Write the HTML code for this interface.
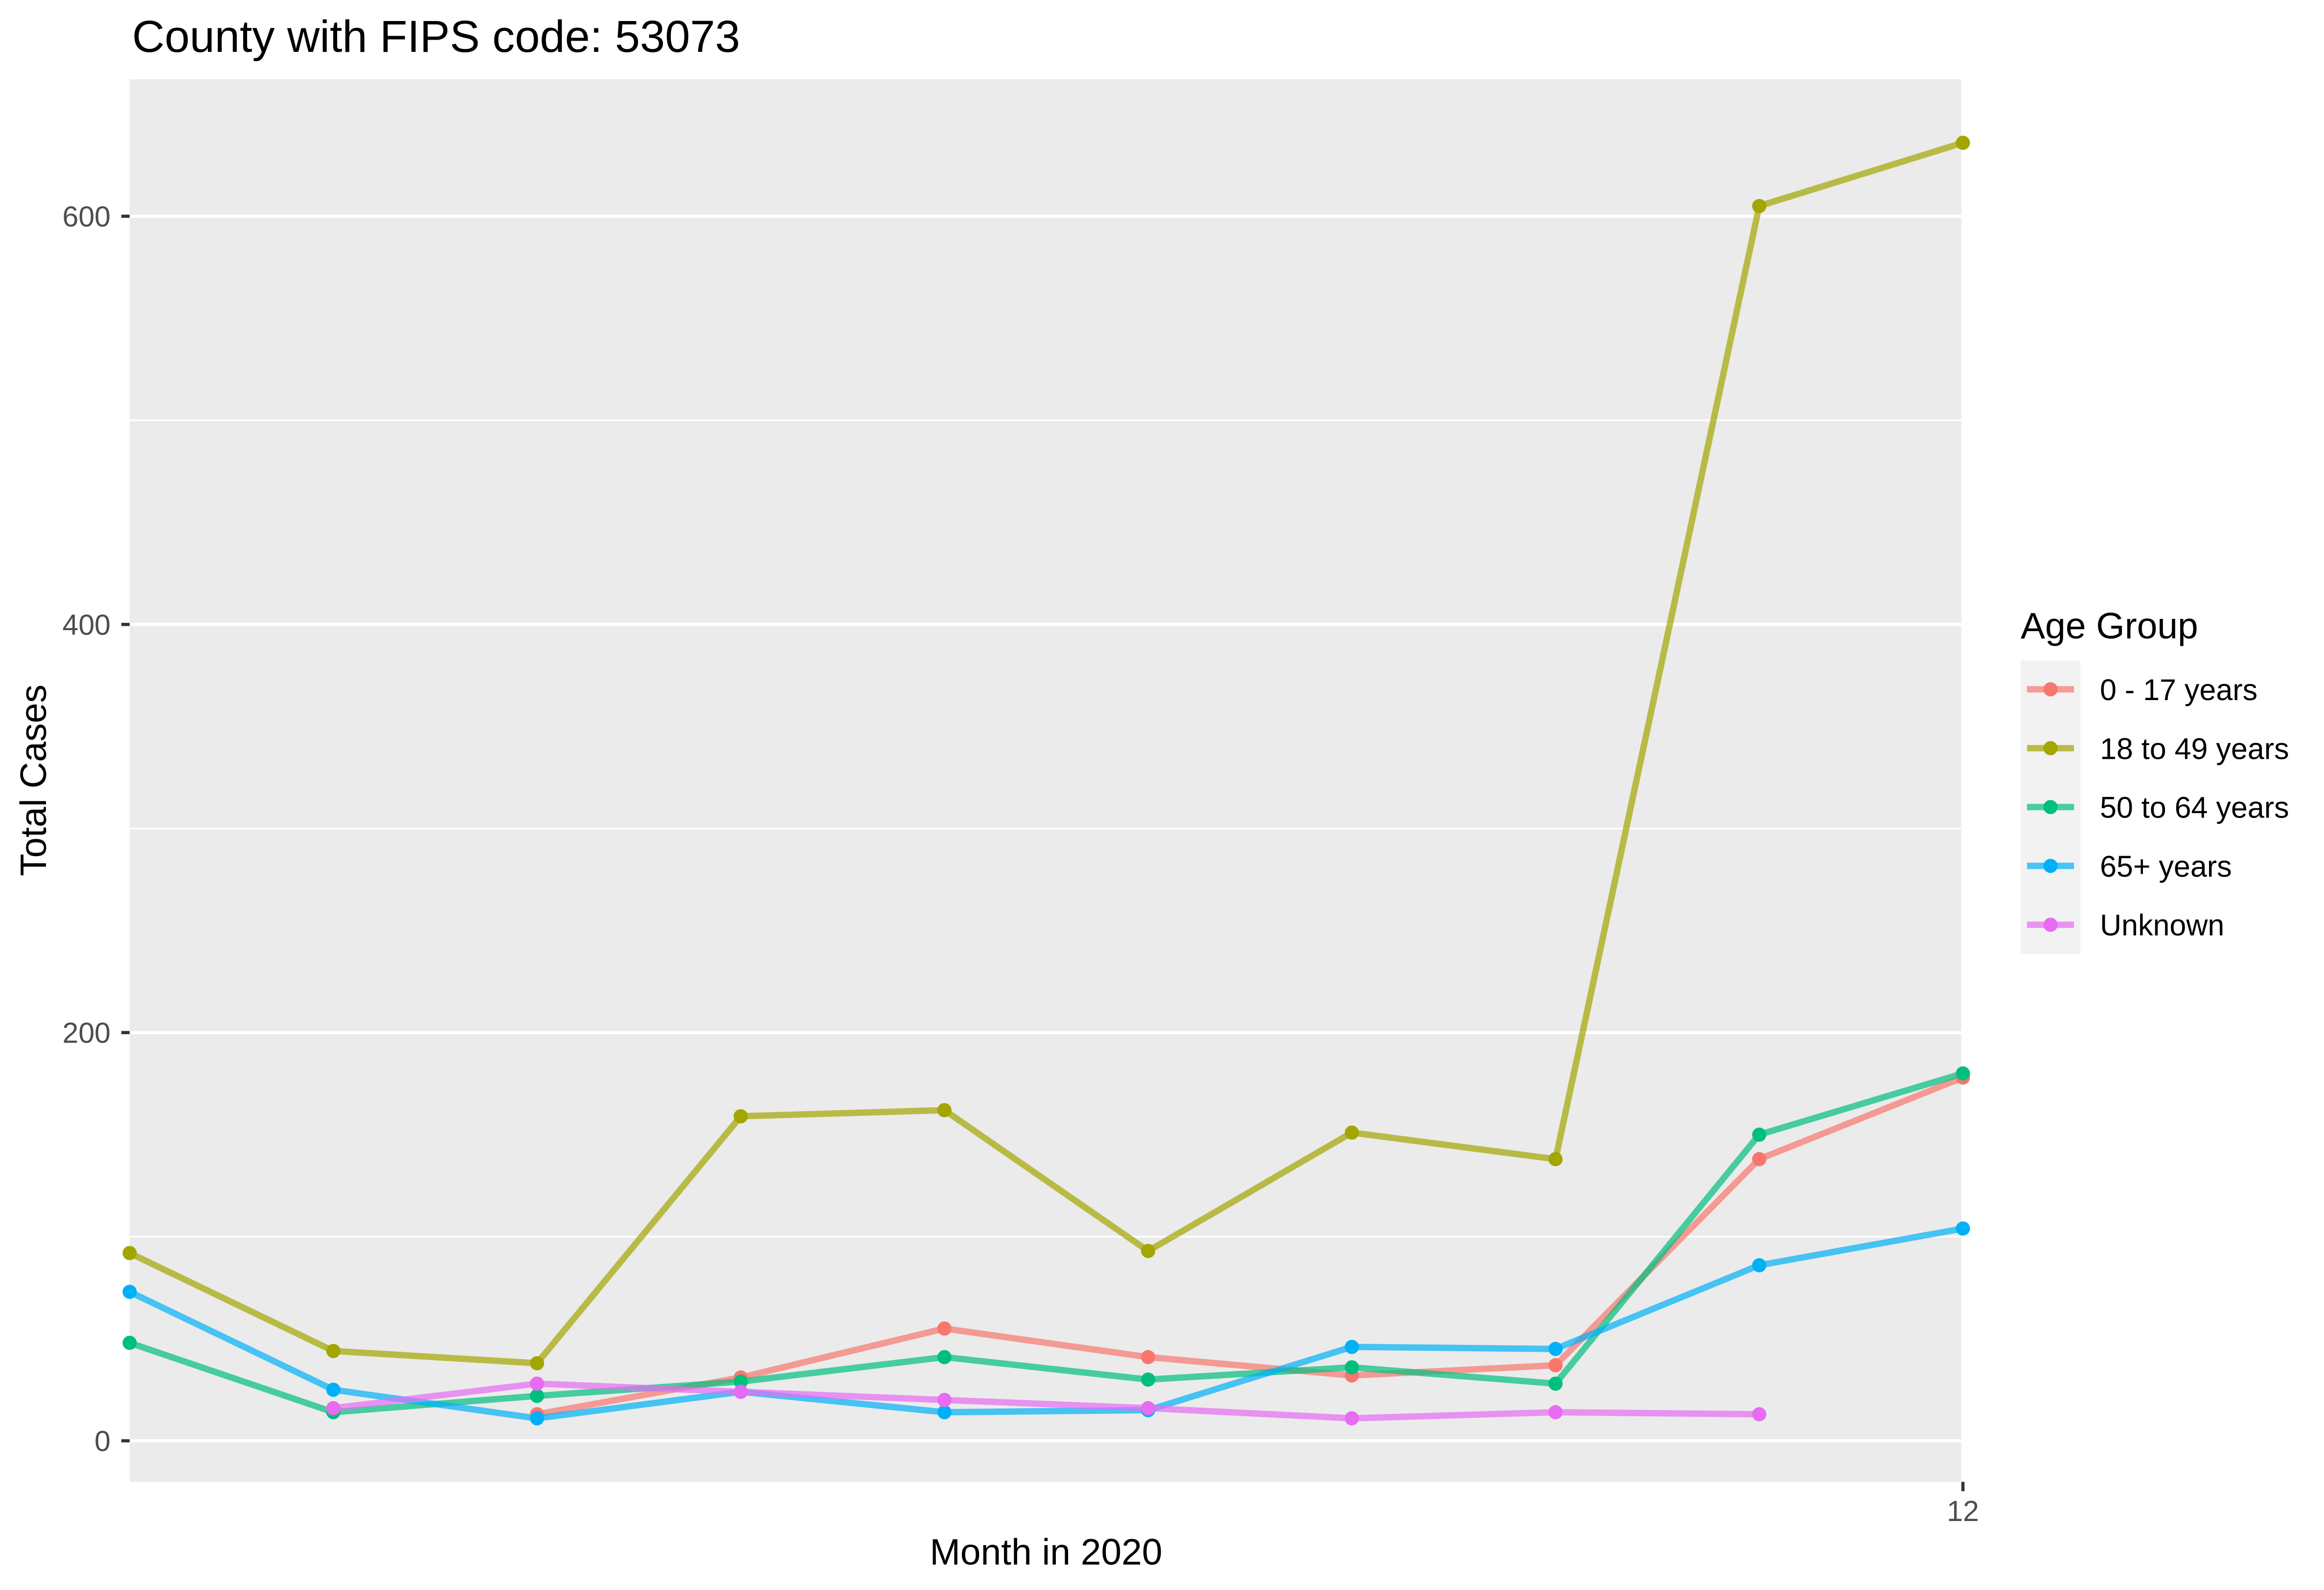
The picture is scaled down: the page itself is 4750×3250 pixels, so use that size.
<!DOCTYPE html>
<html><head><meta charset="utf-8"><style>
html,body{margin:0;padding:0;background:#fff;}
svg{display:block;font-family:"Liberation Sans",Arial,sans-serif;}
</style></head><body>
<svg id="chart" width="4750" height="3250" viewBox="0 0 4750 3250" xmlns="http://www.w3.org/2000/svg">
<rect x="0" y="0" width="4750" height="3250" fill="#fff"/>
<text x="270" y="106" font-size="92" fill="#000">County with FIPS code: 53073</text>
<rect x="265" y="162" width="3747" height="2867" fill="#EBEBEB"/>
<g id="grid"></g>
<g id="series"></g>
<g id="axes"></g>
<text x="2138" y="3198" font-size="75" text-anchor="middle" fill="#000">Month in 2020</text>
<text transform="translate(94,1595) rotate(-90)" font-size="75" text-anchor="middle" fill="#000">Total Cases</text>
<g id="legend">
<text x="4130" y="1305" font-size="75" fill="#000">Age Group</text>
<rect x="4130" y="1350" width="122" height="600" fill="#F2F2F2"/>
</g>
</svg>
<script>
const months = [3,4,5,6,7,8,9,10,11,12];
const groups = ["0 - 17 years","18 to 49 years","50 to 64 years","65+ years","Unknown"];
const colors = ["#F8766D","#A3A500","#00BF7D","#00B0F6","#E76BF3"];
const s0_17 = [null,null,13,31,55,41,32,37,138,178];
const s18_49 = [92,44,38,159,162,93,151,138,605,636];
const s50_64 = [48,14,22,29,41,30,36,28,150,180];
const s65 = [73,25,11,24,14,15,46,45,86,104];
const sUnknown = [null,16,28,24,20,16,11,14,13,null];
const yTicks = [0,200,400,600];
const yMinor = [100,300,500];
const xTicks = [12];

const NS="http://www.w3.org/2000/svg";
const X0=265,X1=4012,Y0=162,Y1=3029;
const xMin=3,xMax=12, yBase=2945, yPerUnit=(2945-442)/600;
function xs(m){return X0+(m-xMin)/(xMax-xMin)*(X1-X0);}
function ys(v){return yBase-v*yPerUnit;}
function mk(tag,attrs,parent){const e=document.createElementNS(NS,tag);for(const k in attrs)e.setAttribute(k,attrs[k]);parent.appendChild(e);return e;}

const grid=document.getElementById('grid');
yMinor.forEach(v=>{const l=mk('line',{x1:X0,x2:X1,y1:ys(v),y2:ys(v),stroke:'#fff','stroke-width':3.3},grid);

});
yTicks.forEach(v=>{const l=mk('line',{x1:X0,x2:X1,y1:ys(v),y2:ys(v),stroke:'#fff','stroke-width':6.5},grid);

});
xTicks.forEach(m=>{const l=mk('line',{x1:xs(m),x2:xs(m),y1:Y0,y2:Y1,stroke:'#fff','stroke-width':6.5},grid);

});

const axes=document.getElementById('axes');
yTicks.forEach(v=>{
 const t=mk('line',{x1:248,x2:265,y1:ys(v),y2:ys(v),stroke:'#333','stroke-width':6.5},axes);
 
 
 const tx=mk('text',{x:226,y:ys(v)+21,'font-size':59,'text-anchor':'end',fill:'#4D4D4D'},axes);
 tx.textContent=v;
 
 
});
xTicks.forEach(m=>{
 const t=mk('line',{x1:xs(m),x2:xs(m),y1:Y1,y2:Y1+19,stroke:'#333','stroke-width':6.5},axes);
 
 
 const tx=mk('text',{x:xs(m),y:3109,'font-size':59,'text-anchor':'middle',fill:'#4D4D4D'},axes);
 tx.textContent=m;
 
 
});

const allSeries=[s0_17,s18_49,s50_64,s65,sUnknown];
const seriesG=document.getElementById('series');
allSeries.forEach((s,i)=>{
 let segs=[],cur=[];
 s.forEach((v,j)=>{if(v===null){if(cur.length)segs.push(cur);cur=[];}else cur.push(xs(months[j])+','+ys(v));});
 if(cur.length)segs.push(cur);
 segs.forEach(seg=>{
  const p=mk('polyline',{points:seg.join(' '),fill:'none',stroke:colors[i],'stroke-width':13,'stroke-opacity':0.7,'stroke-linejoin':'round'},seriesG);
  
  
 });
});
allSeries.forEach((s,i)=>{
 s.forEach((v,j)=>{if(v===null)return;
  const c=mk('circle',{cx:xs(months[j]),cy:ys(v),r:14.5,fill:colors[i]},seriesG);
  
  
 });
});

const lg=document.getElementById('legend');
groups.forEach((g,i)=>{
 const cy=1409+i*120.3;
 const l=mk('line',{x1:4143,x2:4239,y1:cy,y2:cy,stroke:colors[i],'stroke-width':13,'stroke-opacity':0.7},lg);
 
 
 const c=mk('circle',{cx:4191,cy:cy,r:14.5,fill:colors[i]},lg);
 
 
 const t=mk('text',{x:4292,y:cy+22,'font-size':61,fill:'#000'},lg);
 t.textContent=g;
 
 
});
</script>
</body></html>
